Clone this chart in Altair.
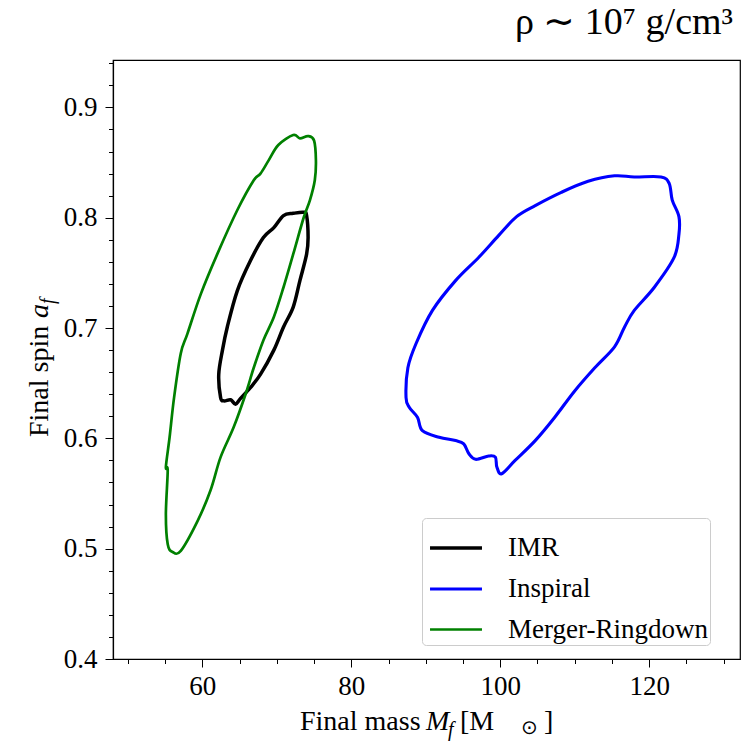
import altair as alt
import pandas as pd

# ---- data ----
series_names = ["IMR", "Inspiral", "Merger-Ringdown"]
series_colors = ["#000000", "#0000ff", "#008000"]
series_widths = [3.5, 2.7, 2.0]

imr_x = [73.6, 74.0, 74.2, 74.0, 73.1, 72.2, 70.9, 69.6, 67.8, 66.45, 65.1, 64.45, 63.8,
         62.9, 62.45, 62.2, 62.7, 63.35, 64.7, 66.45, 68.2, 69.6, 70.9, 72.2]
imr_y = [0.805, 0.802, 0.782, 0.767, 0.743, 0.719, 0.701, 0.680, 0.658, 0.646, 0.636, 0.631, 0.635,
         0.634, 0.637, 0.658, 0.680, 0.701, 0.734, 0.761, 0.782, 0.791, 0.802, 0.804]

insp_x = [87.35, 87.6, 88.7, 90.9, 94.0, 97.1, 99.8, 102.2, 104.7, 108.2, 111.8, 115.35, 118.0,
          121.6, 122.7, 123.1, 124.0, 124.0, 123.35, 120.7, 118.0, 116.7, 115.35, 112.7, 110.0,
          107.3, 104.7, 102.0, 100.2, 99.55, 99.35, 98.45, 96.7, 95.8, 95.1, 94.0, 91.8, 89.55,
          88.9, 87.8]
insp_y = [0.637, 0.664, 0.686, 0.716, 0.743, 0.764, 0.784, 0.801, 0.811, 0.823, 0.833, 0.838, 0.837,
          0.837, 0.831, 0.816, 0.801, 0.785, 0.764, 0.737, 0.716, 0.701, 0.683, 0.664, 0.643,
          0.619, 0.598, 0.580, 0.568, 0.574, 0.583, 0.584, 0.581, 0.586, 0.595, 0.598, 0.601, 0.607,
          0.619, 0.628]

mr_x = [72.2, 73.1, 74.2, 75.0, 75.25, 75.1, 74.45, 73.6, 72.2, 70.9, 69.6, 68.2, 66.9, 65.8,
        64.2, 62.45, 61.1, 59.35, 57.1, 56.0, 55.35, 55.1, 55.35, 55.1, 55.6, 56.2, 57.1, 58.0,
        59.8, 62.0, 64.7, 66.9, 67.8, 68.9, 70.2]
mr_y = [0.875, 0.872, 0.874, 0.870, 0.852, 0.834, 0.816, 0.800, 0.767, 0.737, 0.710, 0.689, 0.664,
        0.640, 0.610, 0.583, 0.553, 0.525, 0.498, 0.497, 0.504, 0.531, 0.571, 0.574, 0.601, 0.637,
        0.677, 0.695, 0.731, 0.767, 0.807, 0.834, 0.840, 0.852, 0.866]

x_major = [60, 80, 100, 120]
x_minor = [50, 55, 65, 70, 75, 85, 90, 95, 105, 110, 115, 125, 130]
y_major = [0.4, 0.5, 0.6, 0.7, 0.8, 0.9]
y_minor = [0.42, 0.44, 0.46, 0.48, 0.52, 0.54, 0.56, 0.58, 0.62, 0.64, 0.66, 0.68,
           0.72, 0.74, 0.76, 0.78, 0.82, 0.84, 0.86, 0.88, 0.92, 0.94]
x_domain = [48.0, 132.2]
y_domain = [0.4, 0.943]

title_text = "ρ ∼ 10⁷ g/cm³"

# ---- build table ----
rows = []
for name, xs, ys in [("IMR", imr_x, imr_y), ("Inspiral", insp_x, insp_y),
                     ("Merger-Ringdown", mr_x, mr_y)]:
    for i, (a, b) in enumerate(zip(xs, ys)):
        rows.append({"series": name, "order": i, "x": a, "y": b})
df = pd.DataFrame(rows)

FONT = "Liberation Serif"
W, H = 627, 599

xscale = alt.Scale(domain=x_domain, nice=False, zero=False)
yscale = alt.Scale(domain=y_domain, nice=False, zero=False)

leg = dict(title=None, orient="none", legendX=309, legendY=458)

lines = alt.Chart(df).mark_line(interpolate="cardinal-closed").encode(
    x=alt.X("x:Q", scale=xscale,
            axis=alt.Axis(values=x_major, format="d", title=None, orient="bottom",
                          tickSize=8, labelPadding=6, grid=False)),
    y=alt.Y("y:Q", scale=yscale,
            axis=alt.Axis(values=y_major, format=".1f", title=None, orient="left",
                          tickSize=8, labelPadding=8, grid=False)),
    color=alt.Color("series:N", scale=alt.Scale(domain=series_names, range=series_colors),
                    legend=alt.Legend(**leg)),
    strokeWidth=alt.StrokeWidth("series:N",
                                scale=alt.Scale(domain=series_names, range=series_widths),
                                legend=alt.Legend(**leg)),
    detail="series:N",
    order="order:Q",
)

minor = alt.Chart(df).mark_point(opacity=0).encode(
    x=alt.X("x:Q", scale=xscale,
            axis=alt.Axis(values=x_minor, labels=False, domain=False, title=None,
                          orient="bottom", tickSize=4.5, grid=False)),
    y=alt.Y("y:Q", scale=yscale,
            axis=alt.Axis(values=y_minor, labels=False, domain=False, title=None,
                          orient="left", tickSize=4.5, grid=False)),
)

one = pd.DataFrame({"k": [0]})


def label(text, x, y, size=28, italic=False, angle=0, align="left"):
    kw = dict(text=text, font=FONT, fontSize=size, color="black", align=align,
              baseline="alphabetic")
    if italic:
        kw["fontStyle"] = "italic"
    if angle:
        kw["angle"] = angle
    return alt.Chart(one).mark_text(**kw).encode(x=alt.value(x), y=alt.value(y))


texts = [
    # top-right title
    label(title_text, 620, -26, size=38, align="right"),
    # x axis title: Final mass M_f [M_sun]
    label("Final mass", 187, 670),
    label("M", 313, 670, italic=True),
    label("f", 335, 676, size=20, italic=True),
    label("[M", 347, 670),
    label("⊙", 416, 674, size=20, align="center"),
    label("]", 431, 670),
    # y axis title: Final spin a_f (rotated)
    label("Final spin", -65, 377, angle=270),
    label("a", -65, 258, italic=True, angle=270),
    label("f", -59, 244, size=20, italic=True, angle=270),
]

chart = alt.layer(lines, minor, *texts).resolve_axis(
    x="independent", y="independent"
).properties(
    width=W, height=H,
    autosize=alt.AutoSizeParams(type="none"),
    padding={"left": 113, "top": 60, "right": 11, "bottom": 84},
).configure_view(
    stroke="black", strokeWidth=1.2
).configure_axis(
    domainColor="black", tickColor="black", labelColor="black",
    labelFont=FONT, labelFontSize=27, tickWidth=1, domainWidth=1.2,
).configure_legend(
    symbolType="stroke", symbolSize=2700, labelFont=FONT, labelFontSize=27,
    labelColor="black", padding=2, strokeColor="#cccccc", fillColor="white",
    cornerRadius=4, rowPadding=-34, labelOffset=24, labelLimit=400, symbolOffset=4,
)

chart.save("out.html", embed_options={"renderer": "svg", "actions": False})
